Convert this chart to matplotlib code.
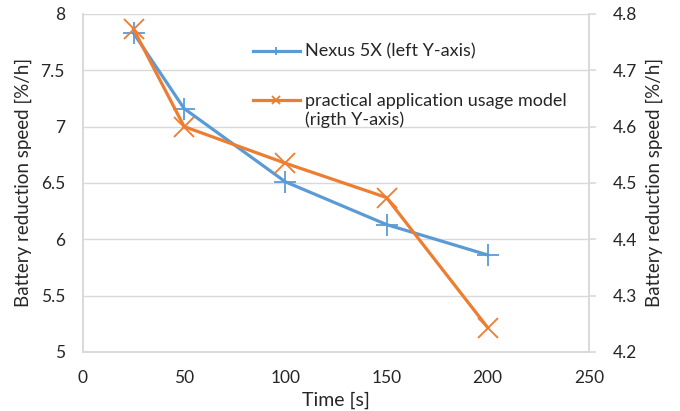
import matplotlib
matplotlib.use("Agg")
import numpy as np
from matplotlib import pyplot as plt
from matplotlib.legend_handler import HandlerLine2D

plt.rcParams['font.family'] = ['Lato', 'DejaVu Sans']

time_s = [25, 50, 100, 150, 200]
nexus_5x = [7.83, 7.16, 6.51, 6.13, 5.86]
usage_model = [4.773, 4.600, 4.535, 4.474, 4.243]

BLUE = "#5B9BD5"
ORANGE = "#ED7D31"
GRID = "#D9D9D9"
TEXT = "#262626"


class FirstLineHandler(HandlerLine2D):
    # put the legend line next to the first row of a two-row label
    def create_artists(self, legend, orig_handle, xdescent, ydescent,
                       width, height, fontsize, trans):
        arts = super().create_artists(legend, orig_handle, xdescent, ydescent,
                                      width, height, fontsize, trans)
        for a in arts:
            a.set_ydata(np.asarray(a.get_ydata()) + fontsize * 0.62)
        return arts


fig = plt.figure(figsize=(6.8, 4.11), dpi=100)
ax = fig.add_axes([0.122, 0.144, 0.744, 0.822])
ax2 = ax.twinx()

l1, = ax.plot(time_s, nexus_5x, color=BLUE, lw=2.3, marker='+', ms=16, mew=1.3,
              label="Nexus 5X (left Y-axis)")
l2, = ax2.plot(time_s, usage_model, color=ORANGE, lw=2.3, marker='x', ms=15, mew=1.3,
               label="practical application usage model\n(rigth Y-axis)")

ax.set_xlim(0, 250)
ax.set_ylim(5, 8)
ax2.set_ylim(4.2, 4.8)
ax.set_xticks([0, 50, 100, 150, 200, 250])
ax.set_yticks([5, 5.5, 6, 6.5, 7, 7.5, 8])
ax.set_yticklabels(["5", "5.5", "6", "6.5", "7", "7.5", "8"])
ax2.set_yticks([4.2, 4.3, 4.4, 4.5, 4.6, 4.7, 4.8])

ax.grid(axis='y', color=GRID, lw=1)
ax.set_axisbelow(True)

for a in (ax, ax2):
    a.spines['top'].set_visible(False)
    for s in ('left', 'right', 'bottom'):
        a.spines[s].set_color(GRID)
        a.spines[s].set_linewidth(1.2)
    a.tick_params(labelsize=12.5, colors=TEXT)

ax.tick_params(axis='y', length=0, pad=13)
ax.tick_params(axis='x', length=0, pad=13)
ax2.tick_params(axis='y', length=5, color=GRID, width=1.2, pad=12)

ax.set_xlabel("Time [s]", fontsize=14, color=TEXT)
ax.set_ylabel("Battery reduction speed [%/h]", fontsize=13.5, color=TEXT)
ax2.set_ylabel("Battery reduction speed [%/h]", fontsize=13.5, color=TEXT)
ax.xaxis.set_label_coords(0.5, -0.118)
ax.yaxis.set_label_coords(-0.101, 0.5)
ax2.yaxis.set_label_coords(1.113, 0.5)

leg = ax.legend(handles=[l1, l2], loc='upper left', bbox_to_anchor=(0.304, 0.96),
                frameon=False, fontsize=13, handlelength=2.6, handletextpad=0.3,
                labelspacing=1.84, labelcolor=TEXT, markerscale=0.4,
                handler_map={l2: FirstLineHandler()})

fig.savefig("out.png", dpi=100)
